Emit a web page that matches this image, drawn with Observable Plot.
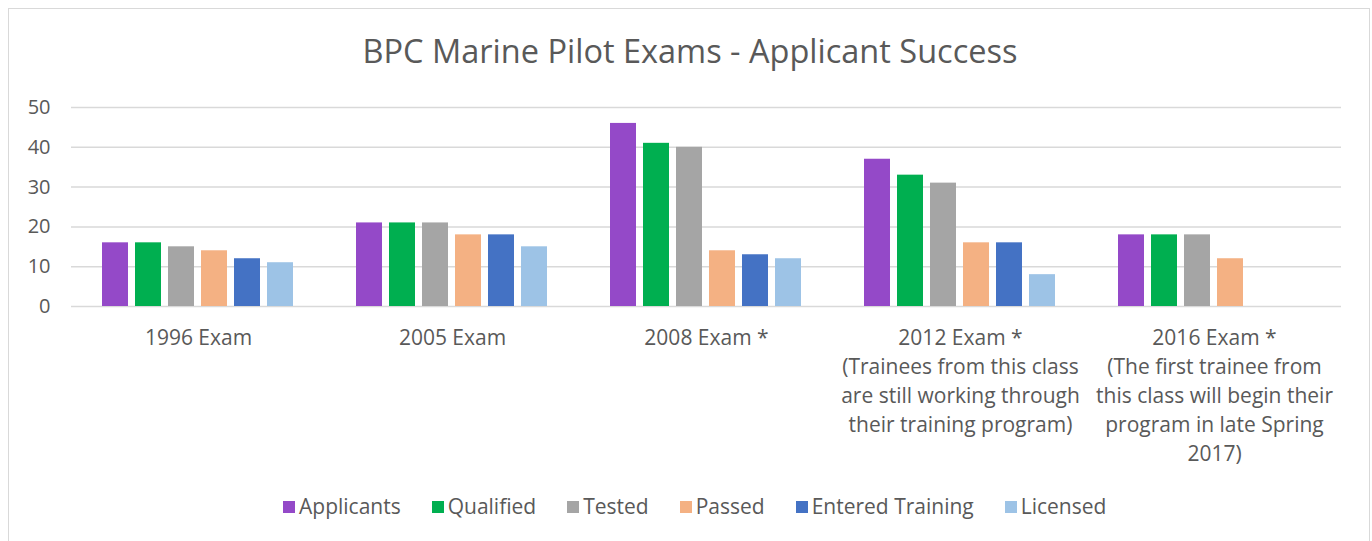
<!DOCTYPE html>
<html>
<head>
<meta charset="utf-8">
<script src="https://cdn.jsdelivr.net/npm/d3@7"></script>
<script src="https://cdn.jsdelivr.net/npm/@observablehq/plot@0.6"></script>
<style>
  html, body { margin: 0; padding: 0; background: #fff; width: 1372px; height: 541px; overflow: hidden; font-family: "Open Sans", sans-serif; }
  #frame { position: absolute; left: 8px; top: 8px; width: 1362px; height: 600px; border: 1.5px solid #d9d9d9; box-sizing: border-box; }
  #title { position: absolute; left: 0; width: 1380px; top: 35px; text-align: center; font-size: 32.5px; line-height: 32.5px; color: #595959; }
  #chart { position: absolute; left: 0; top: 88px; }
  #legend { position: absolute; left: 283px; top: 496px; display: flex; align-items: center; font-size: 21px; line-height: 21px; color: #595959; }
  .item { display: flex; align-items: center; margin-right: 31px; }
  .sw { width: 12px; height: 12px; margin-right: 4px; }
</style>
</head>
<body>
<div id="frame"></div>
<div id="title">BPC Marine Pilot Exams - Applicant Success</div>
<div id="chart"></div>
<div id="legend"></div>
<script>
const exams = ["1996 Exam", "2005 Exam", "2008 Exam *", "2012 Exam *", "2016 Exam *"];
const examLabels = [
  "1996 Exam",
  "2005 Exam",
  "2008 Exam *",
  "2012 Exam *\n(Trainees from this class\nare still working through\ntheir training program)",
  "2016 Exam *\n(The first trainee from\nthis class will begin their\nprogram in late Spring\n2017)"
];
const series = ["Applicants", "Qualified", "Tested", "Passed", "Entered Training", "Licensed"];
const colors = ["#9449C8", "#00AF50", "#A5A5A5", "#F4B183", "#4472C4", "#9DC3E6"];
const applicants = [16, 21, 46, 37, 18];
const qualified = [16, 21, 41, 33, 18];
const tested = [15, 21, 40, 31, 18];
const passed = [14, 18, 14, 16, 12];
const enteredTraining = [12, 18, 13, 16, null];
const licensed = [11, 15, 12, 8, null];
const yTicks = [0, 10, 20, 30, 40, 50];

const valuesBySeries = [applicants, qualified, tested, passed, enteredTraining, licensed];
const data = [];
exams.forEach((e, i) => {
  series.forEach((s, j) => {
    const v = valuesBySeries[j][i];
    if (v != null) data.push({exam: e, series: s, value: v});
  });
});
const labelMap = new Map(exams.map((e, i) => [e, examLabels[i]]));

const chart = Plot.plot({
  width: 1372,
  height: 390,
  marginTop: 19,
  marginBottom: 172,
  marginLeft: 70,
  marginRight: 31,
  style: {fontFamily: "Open Sans, sans-serif", color: "#595959", background: "transparent"},
  fx: {domain: exams, paddingInner: 0, paddingOuter: 0, label: null},
  x: {domain: series, paddingInner: 0.2, paddingOuter: 0.87, axis: null},
  y: {domain: [0, 50], label: null},
  color: {domain: series, range: colors},
  marks: [
    Plot.ruleY(yTicks, {stroke: "#d9d9d9", strokeWidth: 1.5}),
    Plot.axisY(yTicks, {tickSize: 0, tickPadding: 21, fontSize: 20, fill: "#595959", label: null}),
    Plot.axisFx({anchor: "bottom", tickSize: 0, tickPadding: 18, fontSize: 21, lineHeight: 1.38, fill: "#595959", label: null, tickFormat: d => labelMap.get(d)}),
    Plot.barY(data, {fx: "exam", x: "series", y: "value", fill: "series"})
  ]
});
document.getElementById("chart").appendChild(chart);

const legend = document.getElementById("legend");
series.forEach((s, i) => {
  const item = document.createElement("div");
  item.className = "item";
  const sw = document.createElement("div");
  sw.className = "sw";
  sw.style.background = colors[i];
  const t = document.createElement("span");
  t.textContent = s;
  item.appendChild(sw);
  item.appendChild(t);
  legend.appendChild(item);
});
</script>
</body>
</html>
